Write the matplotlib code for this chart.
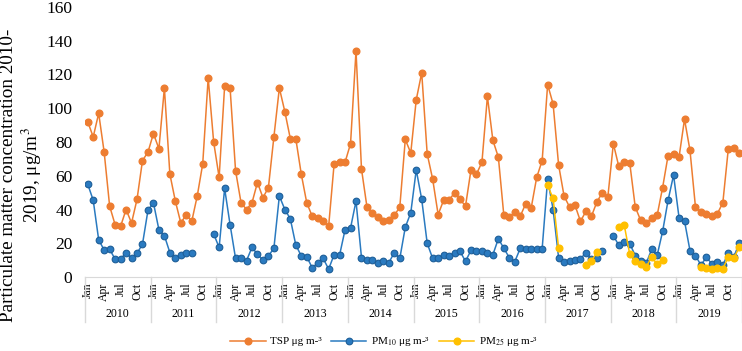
import numpy as np
import matplotlib.pyplot as plt

plt.rcParams['font.family'] = ['Liberation Serif', 'DejaVu Serif']
plt.rcParams['mathtext.fontset'] = 'stix'

years = list(range(2010, 2020))
months = ['Jan', 'Feb', 'Mar', 'Apr', 'May', 'Jun',
          'Jul', 'Aug', 'Sep', 'Oct', 'Nov', 'Dec']

# monthly means, one row per year (None = no data)
tsp = [
    92, 83, 97, 74, 42, 31, 30, 40, 32, 46, 69, 74,
    85, 76, 112, 61, 45, 32, 37, 33, 48, 67, 118, 80,
    59, 113, 112, 63, 44, 40, 44, 56, 47, 53, 83, 112,
    98, 82, 82, 61, 44, 36, 35, 33, 30, 67, 68, 68,
    79, 134, 64, 41.5, 38, 35.5, 33, 33.5, 36.5, 41.5, 81.5, 73.5,
    105, 121, 73, 58, 37, 45.5, 45.5, 50, 46, 42, 63.5, 61,
    68, 107, 81, 71, 36.5, 35.5, 38.5, 36, 43.5, 41, 59, 69,
    114, 102.5, 66.5, 48, 41.5, 42.5, 33, 39, 36, 44.5, 50, 47.5,
    79, 65.5, 68, 67.5, 41.5, 33.5, 32, 35, 36.5, 53, 72, 73,
    71, 93.5, 75, 41.5, 38.5, 37.5, 36, 37.5, 44, 76, 76.5, 73.5,
]
pm10 = [
    55, 45.5, 22, 16, 16.5, 10.5, 10.5, 14.5, 11, 14, 19.5, 39.5,
    44, 28, 24.5, 14.5, 11.5, 13, 14, 14, None, None, None, 25.5,
    17.5, 52.5, 31, 11, 11, 9.7, 17.5, 13.5, 10, 12.5, 17, 48,
    40, 34.5, 19, 12.5, 12, 5.5, 8.3, 11, 4.7, 13.2, 13, 28,
    29, 45, 11.5, 10, 10, 8.5, 9.3, 8.5, 14.5, 11, 29.5, 38,
    63.5, 46, 20, 11, 11, 13.2, 12.5, 14.5, 15.2, 9.3, 15.8, 15.4,
    15.2, 14, 13.2, 22.7, 17, 11.5, 9.1, 17, 16.8, 16.8, 16.8, 16.8,
    58, 40, 11.5, 9.1, 9.5, 10, 10.7, 14.5, 10.9, 11.1, 15.6, None,
    24.5, 18.8, 20.9, 19.8, 12.7, 9.6, 8.1, 16.4, 12.8, 27, 45.5, 60.4,
    35.2, 33.2, 15.6, 12.6, 7.1, 11.7, 7.7, 9.1, 6.9, 14.4, 12, 20,
]
pm25 = [None] * 84 + [
    54.3, 46.6, 17.2, None, None, None, None, 7.1, 9.5, 14.6, None, None,
    None, 29.8, 30.6, 13.4, 9.7, 7.5, 5.9, 11.9, 7.5, 10.1, None, None,
    None, None, None, None, 5.7, 5.5, 4.5, 5.3, 4.9, 12, 11.1, 17.6,
]

labels = ['TSP μg m-³', 'PM$_{10}$ μg m-³', 'PM$_{25}$ μg m-³']

tsp = np.array(tsp, dtype=float)
pm10 = np.array(pm10, dtype=float)
pm25 = np.array(pm25, dtype=float)
x = np.arange(len(tsp))

fig = plt.figure(figsize=(7.42, 3.51), dpi=100)
ax = fig.add_axes([85 / 742, 74 / 351, 657 / 742, 270 / 351])

ax.plot(x, tsp, '-o', color='#ED7D31', lw=1.1, ms=4.8, label=labels[0])
ax.plot(x, pm10, '-o', color='#2A7AC0', mec='#1D5E98', mew=0.8, lw=1.1, ms=4.8, label=labels[1])
ax.plot(x, pm25, '-o', color='#FFC000', lw=1.1, ms=4.8, label=labels[2])

ax.set_xlim(-0.5, len(x) - 0.5)
ax.set_ylim(0, 160)
ax.set_yticks(range(0, 161, 20))
ax.tick_params(axis='y', length=0, labelsize=12.5, pad=9)

ticks = [i for i in x if i % 3 == 0]
ax.set_xticks(ticks, [months[i % 12] for i in ticks], rotation=90, fontsize=8.5)
ax.tick_params(axis='x', length=0, pad=4)

for s in ['top', 'right', 'left']:
    ax.spines[s].set_visible(False)
ax.spines['bottom'].set_color('#D9D9D9')

# two-level category axis: year separators and year names
tr = ax.get_xaxis_transform()
for k in range(len(years) + 1):
    ax.plot([12 * k - 0.5] * 2, [0, -0.167], transform=tr, color='#D9D9D9',
            lw=1, clip_on=False)
for k, yr in enumerate(years):
    ax.text(12 * k + 5.5, -0.137, str(yr), transform=tr, ha='center',
            va='center', fontsize=8.5)

fig.text(22 / 742, 0.5, 'Particulate matter concentration 2010-\n2019, μg/m$^3$',
         rotation=90, ha='center', va='center', fontsize=13.8, linespacing=1.1,
         multialignment='center')

fig.legend(loc='center', bbox_to_anchor=(384 / 742, 1 - 342 / 351), ncol=3,
           frameon=False, fontsize=8, handlelength=3.2, handletextpad=0.4,
           columnspacing=0.8)

fig.savefig('out.png', dpi=100)
